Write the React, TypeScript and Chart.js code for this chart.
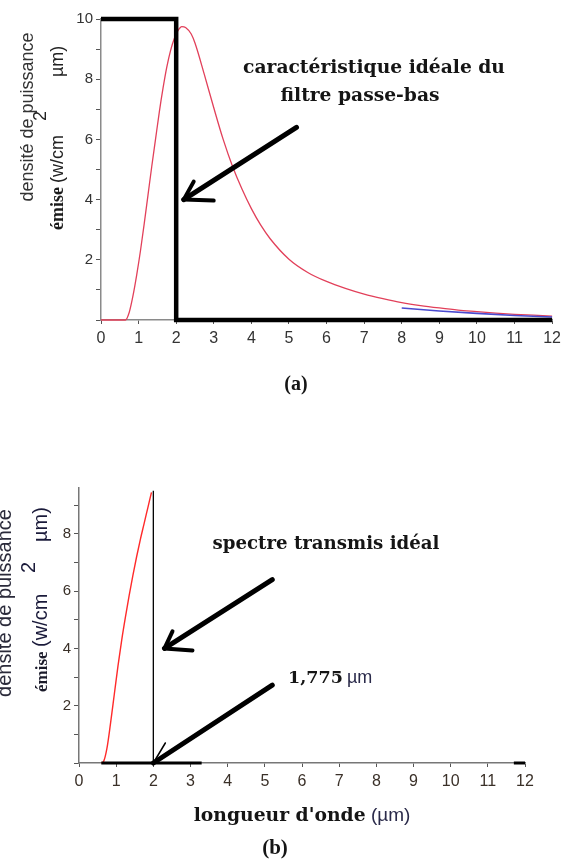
import React, { useEffect, useRef } from 'react';
import { Chart, registerables } from 'chart.js';

Chart.register(...registerables);

// ---------- data ----------
const xTickValues = [0, 1, 2, 3, 4, 5, 6, 7, 8, 9, 10, 11, 12];
const yTickValuesA = [0, 1, 2, 3, 4, 5, 6, 7, 8, 9, 10];
const yLabelValuesA = [2, 4, 6, 8, 10];
const yTickValuesB = [0, 1, 2, 3, 4, 5, 6, 7, 8, 9];
const yLabelValuesB = [2, 4, 6, 8];

// (a) emitted power density (Planck-like curve)
const wavelengthA = [0, 0.65, 0.75, 0.85, 0.95, 1.05, 1.15, 1.25, 1.35, 1.45, 1.55, 1.65, 1.75, 1.85, 1.95, 2.05, 2.15, 2.25, 2.4, 2.5, 2.75, 3.0, 3.25, 3.5, 3.75, 4.0, 4.25, 4.5, 5.0, 5.5, 6.0, 6.5, 7.0, 7.5, 8.0, 8.5, 9.0, 9.5, 10.0, 10.5, 11.0, 11.5, 12.0];
const emissionA = [0, 0, 0.25, 0.8, 1.5, 2.3, 3.2, 4.15, 5.1, 6.0, 6.9, 7.7, 8.4, 8.95, 9.35, 9.62, 9.75, 9.72, 9.5, 9.2, 8.15, 7.05, 6.0, 5.1, 4.35, 3.7, 3.15, 2.7, 2.02, 1.58, 1.28, 1.05, 0.86, 0.71, 0.58, 0.48, 0.4, 0.33, 0.28, 0.23, 0.19, 0.16, 0.13];
// (a) ideal low-pass filter characteristic
const filterLambda = [0, 2, 2, 12];
const filterLevel = [10, 10, 0, 0];
// (a) blue tail
const tailLambda = [8, 9, 10, 11, 12];
const tailEmission = [0.4, 0.3, 0.22, 0.15, 0.1];

// (b) ideal transmitted spectrum
const wavelengthB = [0.6, 0.66, 0.75, 0.85, 0.95, 1.05, 1.15, 1.25, 1.35, 1.45, 1.55, 1.65, 1.75, 1.85, 1.95];
const emissionB = [0, 0.05, 0.5, 1.4, 2.4, 3.4, 4.3, 5.1, 5.85, 6.55, 7.2, 7.8, 8.35, 8.9, 9.45];
const cutoffLambda = [2, 2];
const cutoffLevel = [0, 9.5];
const baseLambda = [0.6, 3.3];
const baseLevel = [0, 0];
const baseEndLambda = [11.7, 12];
const baseEndLevel = [0, 0];

const cutoffLabel = '1,775';

// ---------- helpers ----------
const SANS = "'Liberation Sans', Arial, sans-serif";
const SERIF = "'DejaVu Serif', 'Liberation Serif', serif";
const SERIF2 = "'Liberation Serif', 'Times New Roman', serif";

const pts = (xs: number[], ys: number[]) => xs.map((x, i) => ({ x, y: ys[i] }));

function boldSerif(ctx: CanvasRenderingContext2D, text: string, targetWidth: number) {
  ctx.save();
  ctx.font = `bold 100px ${SERIF}`;
  const w = ctx.measureText(text).width;
  ctx.restore();
  const size = (100 * targetWidth) / w;
  return `bold ${size.toFixed(2)}px ${SERIF}`;
}

function vText(ctx: CanvasRenderingContext2D, text: string, font: string, color: string, baseX: number, y: number, align: CanvasTextAlign = 'left') {
  ctx.save();
  ctx.font = font;
  ctx.fillStyle = color;
  ctx.translate(baseX, y);
  ctx.rotate(-Math.PI / 2);
  ctx.textAlign = align;
  ctx.textBaseline = 'alphabetic';
  ctx.fillText(text, 0, 0);
  ctx.restore();
}

function hText(ctx: CanvasRenderingContext2D, text: string, font: string, color: string, x: number, y: number, align: CanvasTextAlign = 'left') {
  ctx.save();
  ctx.font = font;
  ctx.fillStyle = color;
  ctx.textAlign = align;
  ctx.textBaseline = 'alphabetic';
  ctx.fillText(text, x, y);
  ctx.restore();
}

function arrow(ctx: CanvasRenderingContext2D, x1: number, y1: number, x2: number, y2: number, barbs: number[][], width: number, barbWidth: number) {
  ctx.save();
  ctx.strokeStyle = '#000';
  ctx.lineCap = 'round';
  ctx.lineWidth = width;
  ctx.beginPath();
  ctx.moveTo(x1, y1);
  ctx.lineTo(x2, y2);
  ctx.stroke();
  ctx.lineWidth = barbWidth;
  for (const [dx, dy] of barbs) {
    ctx.beginPath();
    ctx.moveTo(x2, y2);
    ctx.lineTo(x2 + dx, y2 + dy);
    ctx.stroke();
  }
  ctx.restore();
}

function axisCommon(color: string, labelColor: string, fontSize: number) {
  return {
    grid: { display: true, drawOnChartArea: false, drawTicks: true, tickLength: 4, color: '#555', tickWidth: 1 },
    border: { display: true, color, width: 1.5 },
    ticks: { font: { family: SANS, size: fontSize }, color: labelColor, padding: 4, maxRotation: 0, autoSkip: false },
  };
}

function makeScales(yMax: number, yTicks: number[], yLabels: number[], yWidth: number, axisColor: string, labelColor: string) {
  const xc = axisCommon(axisColor, labelColor, 16);
  const yc = axisCommon(axisColor, labelColor, 15);
  return {
    x: {
      type: 'linear',
      min: 0,
      max: 12,
      ...xc,
      ticks: { ...xc.ticks, padding: 5 },
      afterBuildTicks: (s: any) => { s.ticks = xTickValues.map((v) => ({ value: v })); },
      afterFit: (s: any) => { s.height = 28; },
    },
    y: {
      type: 'linear',
      min: 0,
      max: yMax,
      ...yc,
      grid: { ...yc.grid, tickLength: 5 },
      ticks: { ...yc.ticks, padding: 3, callback: (v: any) => (yLabels.includes(Number(v)) ? String(v) : '') },
      afterBuildTicks: (s: any) => { s.ticks = yTicks.map((v) => ({ value: v })); },
      afterFit: (s: any) => { s.width = yWidth; },
    },
  };
}

function line(data: any[], color: string, width: number, smooth = false) {
  return {
    data,
    showLine: true,
    borderColor: color,
    backgroundColor: color,
    borderWidth: width,
    pointRadius: 0,
    pointHoverRadius: 0,
    fill: false,
    clip: 8,
    cubicInterpolationMode: smooth ? 'monotone' : 'default',
    tension: 0,
  };
}

const TOP_B = 430;

export default function App() {
  const refA = useRef<HTMLCanvasElement>(null);
  const refB = useRef<HTMLCanvasElement>(null);

  useEffect(() => {
    const overlayA = {
      id: 'overlayA',
      afterDraw(chart: any) {
        const ctx = chart.ctx as CanvasRenderingContext2D;
        const xs = chart.scales.x;
        const ys = chart.scales.y;
        // y title
        vText(ctx, 'densité de puissance', `18px ${SANS}`, '#333', 33, 117, 'center');
        vText(ctx, 'émise', `bold 18px ${SERIF2}`, '#1a1a1a', 63, 230);
        vText(ctx, '(w/cm', `18px ${SANS}`, '#222', 63, 183);
        vText(ctx, '2', `18px ${SANS}`, '#222', 46, 121);
        vText(ctx, 'µm)', `18px ${SANS}`, '#222', 63, 77);
        // annotation
        const fA = boldSerif(ctx, 'caractéristique idéale du', 262);
        hText(ctx, 'caractéristique idéale du', fA, '#151515', 374, 73, 'center');
        hText(ctx, 'filtre passe-bas', fA, '#151515', 360, 101, 'center');
        arrow(ctx, xs.getPixelForValue(5.2), ys.getPixelForValue(6.4), xs.getPixelForValue(2.2), ys.getPixelForValue(4.0), [[10, -18], [30, 1]], 5, 4);
        hText(ctx, '(a)', `bold 20px ${SERIF2}`, '#151515', 296, 390, 'center');
      },
    };

    const overlayB = {
      id: 'overlayB',
      afterDraw(chart: any) {
        const ctx = chart.ctx as CanvasRenderingContext2D;
        const xs = chart.scales.x;
        const ys = chart.scales.y;
        const o = TOP_B;
        vText(ctx, 'densité de puissance', `20px ${SANS}`, '#2a2a3a', 11, 603 - o, 'center');
        vText(ctx, 'émise', `bold 17px ${SERIF2}`, '#1a1a2a', 47, 692 - o);
        vText(ctx, '(w/cm', `20px ${SANS}`, '#1a1a3a', 47, 647 - o);
        vText(ctx, '2', `20px ${SANS}`, '#1a1a3a', 35, 573 - o);
        vText(ctx, 'µm)', `20px ${SANS}`, '#1a1a3a', 47, 542 - o);

        hText(ctx, 'spectre transmis idéal', boldSerif(ctx, 'spectre transmis idéal', 227), '#151515', 326, 549 - o, 'center');
        arrow(ctx, xs.getPixelForValue(5.2), ys.getPixelForValue(6.4), xs.getPixelForValue(2.3), ys.getPixelForValue(4.0), [[8, -17], [28, 2]], 5, 4);

        const fNum = boldSerif(ctx, cutoffLabel, 55);
        ctx.save();
        ctx.font = fNum;
        const w1 = ctx.measureText(cutoffLabel).width;
        ctx.restore();
        hText(ctx, cutoffLabel, fNum, '#151515', 288, 683 - o);
        hText(ctx, 'µm', `18px ${SANS}`, '#2a2a4a', 288 + w1 + 4, 683 - o);
        arrow(ctx, xs.getPixelForValue(5.2), ys.getPixelForValue(2.72), xs.getPixelForValue(2), ys.getPixelForValue(0), [[12, -20]], 5, 1.5);

        const fX = boldSerif(ctx, "longueur d'onde", 172);
        ctx.save();
        ctx.font = fX;
        const w2 = ctx.measureText("longueur d'onde").width;
        ctx.font = `19px ${SANS}`;
        const w3 = ctx.measureText(' (µm)').width;
        ctx.restore();
        const startX = 302 - (w2 + w3) / 2;
        hText(ctx, "longueur d'onde", fX, '#151515', startX, 821 - o);
        hText(ctx, ' (µm)', `19px ${SANS}`, '#2a2a4a', startX + w2, 821 - o);
        hText(ctx, '(b)', `bold 21px ${SERIF2}`, '#151515', 275, 854 - o, 'center');
      },
    };

    const chartA = new Chart(refA.current as HTMLCanvasElement, {
      type: 'scatter',
      data: {
        datasets: [
          line(pts(filterLambda, filterLevel), '#000', 4.5),
          line(pts(tailLambda, tailEmission), '#4a4ad0', 1.6, true),
          line(pts(wavelengthA, emissionA), '#e2405a', 1.3, true),
        ] as any,
      },
      options: {
        responsive: false,
        devicePixelRatio: 1,
        animation: false,
        events: [],
        layout: { padding: { left: 0, right: 7, top: 19, bottom: 52 } },
        plugins: { legend: { display: false }, tooltip: { enabled: false } },
        scales: makeScales(10, yTickValuesA, yLabelValuesA, 101, '#8a8a8a', '#333') as any,
      },
      plugins: [overlayA],
    });

    const chartB = new Chart(refB.current as HTMLCanvasElement, {
      type: 'scatter',
      data: {
        datasets: [
          line(pts(baseLambda, baseLevel), '#000', 3),
          line(pts(baseEndLambda, baseEndLevel), '#000', 3),
          line(pts(cutoffLambda, cutoffLevel), '#000', 1.3),
          line(pts(wavelengthB, emissionB), '#ff2a2a', 1.4, true),
        ] as any,
      },
      options: {
        responsive: false,
        devicePixelRatio: 1,
        animation: false,
        events: [],
        layout: { padding: { left: 0, right: 41, top: 58, bottom: 68 } },
        plugins: { legend: { display: false }, tooltip: { enabled: false } },
        scales: makeScales(9.6, yTickValuesB, yLabelValuesB, 79, '#777', '#3a3028') as any,
      },
      plugins: [overlayB],
    });

    return () => {
      chartA.destroy();
      chartB.destroy();
    };
  }, []);

  return (
    <div style={{ position: 'absolute', left: 0, top: 0, width: 566, height: 859, background: '#fff', overflow: 'hidden' }}>
      <canvas ref={refA} width={566} height={400} style={{ position: 'absolute', left: 0, top: 0 }} />
      <canvas ref={refB} width={566} height={429} style={{ position: 'absolute', left: 0, top: TOP_B }} />
    </div>
  );
}
